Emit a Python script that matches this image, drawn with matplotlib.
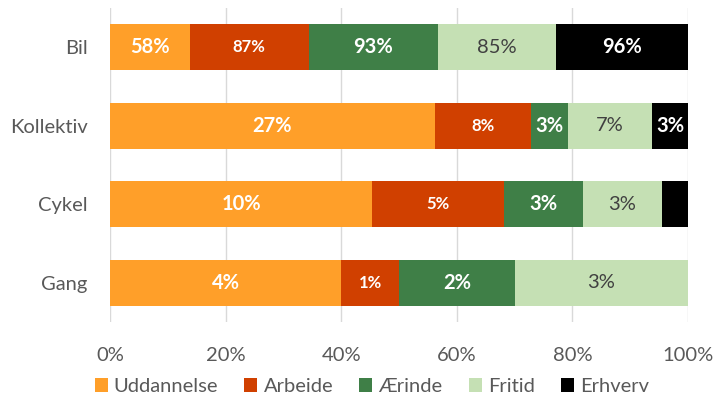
import matplotlib.pyplot as plt
import numpy as np

plt.rcParams['font.family'] = ['Lato', 'DejaVu Sans']

categories = ['Bil', 'Kollektiv', 'Cykel', 'Gang']
series = ['Uddannelse', 'Arbeide', 'Ærinde', 'Fritid', 'Erhverv']
colors = ['#FF9F29', '#D04000', '#3F7F47', '#C5E0B4', '#000000']

# bar widths (share of each row, %)
shares = {
    'Uddannelse': [13.8, 56.2, 45.4, 40.0],
    'Arbeide':    [20.6, 16.7, 22.8, 10.0],
    'Ærinde':     [22.3, 6.3, 13.6, 20.0],
    'Fritid':     [20.5, 14.6, 13.7, 30.0],
    'Erhverv':    [22.8, 6.2, 4.5, 0.0],
}
# printed labels
labels = {
    'Uddannelse': ['58%', '27%', '10%', '4%'],
    'Arbeide':    ['87%', '8%', '5%', '1%'],
    'Ærinde':     ['93%', '3%', '3%', '2%'],
    'Fritid':     ['85%', '7%', '3%', '3%'],
    'Erhverv':    ['96%', '3%', '', ''],
}

fig = plt.figure(figsize=(7.15, 4.05), dpi=100)
ax = fig.add_axes([110/715, 1-322/405, 578/715, 314/405])

y = np.arange(len(categories))
left = np.zeros(len(categories))
for s, c in zip(series, colors):
    vals = np.array(shares[s])
    ax.barh(y, vals, left=left, height=0.58, color=c, label=s, zorder=3)
    for i, v in enumerate(vals):
        txt = labels[s][i]
        if not txt or v == 0:
            continue
        if s == 'Fritid':
            ax.text(left[i] + v/2, y[i], txt, ha='center', va='center',
                    color='#404040', fontsize=14.5, zorder=4)
        elif s == 'Arbeide':
            ax.text(left[i] + v/2, y[i], txt, ha='center', va='center',
                    color='white', fontsize=12, fontweight='bold', zorder=4)
        else:
            ax.text(left[i] + v/2, y[i], txt, ha='center', va='center',
                    color='white', fontsize=14.5, fontweight='bold', zorder=4)
    left += vals

ax.set_xlim(0, 100)
ax.set_ylim(3.5, -0.5)
ax.set_yticks(y)
ax.set_yticklabels(categories)
ax.set_xticks(range(0, 101, 20))
ax.set_xticklabels([f'{t}%' for t in range(0, 101, 20)])
ax.tick_params(length=0, labelsize=14.5, colors='#595959')
ax.tick_params(axis='y', pad=16)
ax.tick_params(axis='x', pad=18)
ax.grid(axis='x', color='#D9D9D9', lw=1, zorder=0)
for sp in ax.spines.values():
    sp.set_visible(False)

fig.legend(loc='lower center', bbox_to_anchor=(0.52, -0.02), ncol=5, frameon=False,
           fontsize=14.5, labelcolor='#595959', handlelength=0.65, handleheight=0.65,
           handletextpad=0.3, columnspacing=1.3)

fig.savefig('out.png')
